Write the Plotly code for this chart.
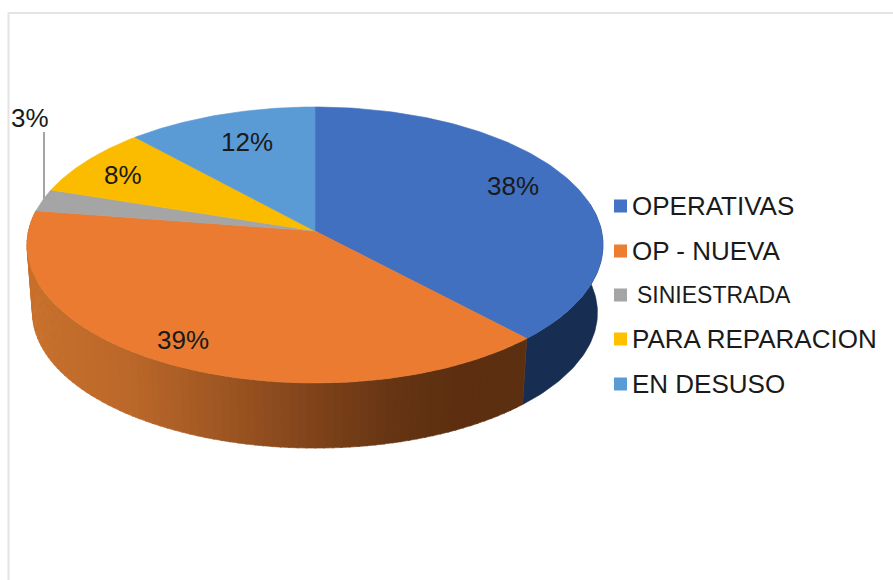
import numpy as np
import plotly.graph_objects as go

# ------------------- Data -------------------
categories = ['OPERATIVAS', 'OP - NUEVA', 'SINIESTRADA', 'PARA REPARACION', 'EN DESUSO']
values = [38, 39.4, 2.6, 8.2, 11.8]
pct_labels = ['38%', '39%', '3%', '8%', '12%']

# ------------------- Style -------------------
colors = ['#4472C4', '#ED7D31', '#A5A5A5', '#FFC000', '#5B9BD5']
top_colors = ['#4170C0', '#EA7B31', '#A5A5A5', '#FBBC00', '#5A9AD5']
blue_side = '#172D52'
orange_side_x = [30, 130, 230, 300, 400, 450, 525]
orange_side_rgb = np.array([[200, 113, 44], [188, 104, 42], [156, 85, 34],
                            [132, 70, 28], [100, 52, 19], [94, 48, 17], [92, 47, 16]])
label_xy = [(513, 186), (183, 340), (30, 118), (123, 175), (247, 142)]
legend_y = [206, 251, 295, 339, 384]


# tilted disc in page pixels, k gives the perspective
def project(theta, b, a, y0, k=0.1014, cx=315):
    u, v = np.sin(theta), np.cos(theta)
    w = 1 + k * v
    return cx + b * u / w, y0 - a * v / w


def top_face(t0, t1):
    t = np.linspace(t0, t1, 120)
    x, y = project(t, 286.5, 136.6, 231)
    return np.r_[315, x, 315], np.r_[231, y, 231]


def side_strip(t0, t1, n=6):
    t = np.linspace(t0, t1, n)
    x1, y1 = project(t, 286.5, 136.6, 231)
    x2, y2 = project(t, 281, 134, 299)
    return np.r_[x1, x2[::-1], x1[0]], np.r_[y1, y2[::-1], y1[0]]


def poly(x, y, color):
    return go.Scatter(x=x, y=y, mode='lines', fill='toself', fillcolor=color,
                      line=dict(color=color, width=0.6), hoverinfo='skip', showlegend=False)


edges = np.r_[0, np.cumsum(values)] / sum(values) * 2 * np.pi
fig = go.Figure()

# ------------------- Side wall -------------------
x, y = side_strip(np.pi / 2 - 0.2, edges[1], n=60)
fig.add_trace(poly(x, y, blue_side))
steps = np.linspace(edges[1], edges[2], 90)
for t0, t1 in zip(steps[:-1], steps[1:]):
    x, y = side_strip(t0, t1 + 0.004)
    xm = x.mean()
    rgb = [int(np.interp(xm, orange_side_x, orange_side_rgb[:, i])) for i in range(3)]
    fig.add_trace(poly(x, y, 'rgb(%d,%d,%d)' % tuple(rgb)))

# ------------------- Top slices -------------------
for i in range(len(values)):
    x, y = top_face(edges[i], edges[i + 1])
    fig.add_trace(poly(x, y, top_colors[i]))

# ------------------- Leader line for the 3% label -------------------
fig.add_trace(go.Scatter(x=[44, 44], y=[132, 199], mode='lines',
                         line=dict(color='#A5A5A5', width=2), hoverinfo='skip', showlegend=False))

# ------------------- Legend -------------------
fig.add_trace(go.Scatter(x=[620.5] * 5, y=legend_y, mode='markers',
                         marker=dict(symbol='square', size=13, color=colors),
                         hoverinfo='skip', showlegend=False))
for i, name in enumerate(categories):
    small = name == 'SINIESTRADA'
    fig.add_annotation(x=635 if small else 630, y=legend_y[i], text=name, showarrow=False,
                       xanchor='left', yanchor='middle',
                       font=dict(size=23 if small else 26, color='#1a1a1a'))

# ------------------- Percent labels -------------------
for (lx, ly), txt in zip(label_xy, pct_labels):
    fig.add_annotation(x=lx, y=ly, text=txt, showarrow=False, font=dict(size=26, color='#1a1a1a'))

# thin frame left over from the source image
fig.add_shape(type='line', x0=8.5, x1=8.5, y0=12, y1=580, line=dict(color='#E4E4E4', width=2))
fig.add_shape(type='line', x0=8, x1=893, y0=13, y1=13, line=dict(color='#E4E4E4', width=2))

fig.update_layout(width=893, height=580, margin=dict(l=0, r=0, t=0, b=0),
                  paper_bgcolor='white', plot_bgcolor='white',
                  font=dict(family='Liberation Sans'),
                  xaxis=dict(range=[0, 893], visible=False, fixedrange=True),
                  yaxis=dict(range=[580, 0], visible=False, fixedrange=True))
fig.write_html("out.html", config={'displayModeBar': False},
               post_script="document.body.style.margin='0';document.body.style.overflow='hidden';")
